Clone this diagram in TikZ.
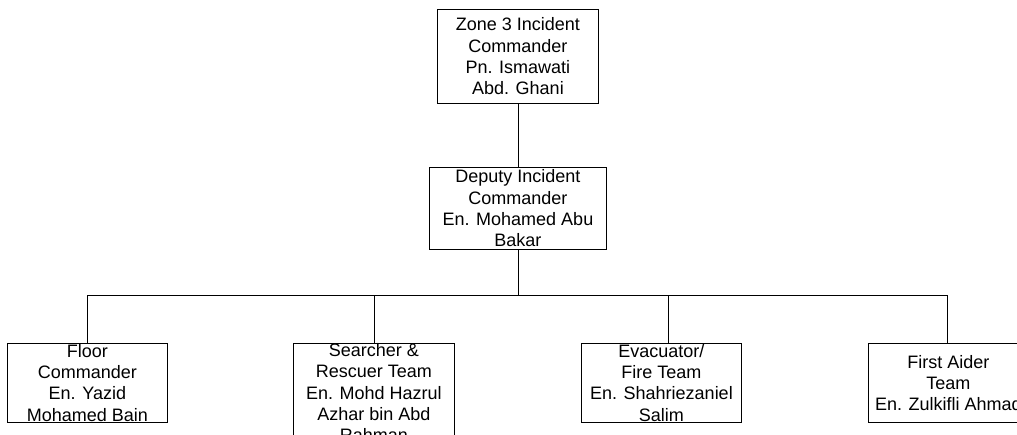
\documentclass[tikz,border=0pt]{standalone}
\usepackage{fontspec}
\setmainfont{Liberation Sans}
\begin{document}
\begin{tikzpicture}[x=1pt,y=-1pt,
  box/.style={draw=black,line width=0.8pt,rectangle,inner sep=0pt,anchor=north west,
    align=center,font=\fontsize{18}{21.3}\selectfont,text=black},
  link/.style={draw=black,line width=0.8pt}]
\useasboundingbox (0,0) rectangle (1017,434);
\clip (0,0) rectangle (1017,434);
\node[box,minimum width=161pt,minimum height=94pt] (top) at (437,9)
  {Zone 3 Incident\\Commander\\Pn. Ismawati\\Abd. Ghani};
\node[box,minimum width=177pt,minimum height=82pt] (dep) at (429,167)
  {Deputy Incident\\Commander\\En. Mohamed Abu\\Bakar};
\node[box,minimum width=160pt,minimum height=79pt] (floor) at (7,343)
  {Floor\\Commander\\En. Yazid\\Mohamed Bain};
\node[box,minimum width=161pt,minimum height=98pt] (search) at (293,343)
  {Searcher \&\\Rescuer Team\\En. Mohd Hazrul\\Azhar bin Abd\\Rahman};
\node[box,minimum width=160pt,minimum height=79pt] (evac) at (581,343)
  {Evacuator/\\Fire Team\\En. Shahriezaniel\\Salim};
\node[box,minimum width=160pt,minimum height=79pt] (aid) at (868,343)
  {First Aider\\Team\\En. Zulkifli Ahmad};
\coordinate (busL) at (87,295);
\coordinate (busR) at (947,295);
\draw[link] (top) -- (dep);
\draw[link] (dep.south) -- (dep.south |- busL);
\draw[link] (busL) -- (busR);
\draw[link] (floor.north) -- (floor.north |- busL);
\draw[link] (search.north) -- (search.north |- busL);
\draw[link] ([xshift=7pt]evac.north) -- ([xshift=7pt]evac.north |- busL);
\draw[link] (busR) -- (busR |- aid.north);
\end{tikzpicture}
\end{document}
